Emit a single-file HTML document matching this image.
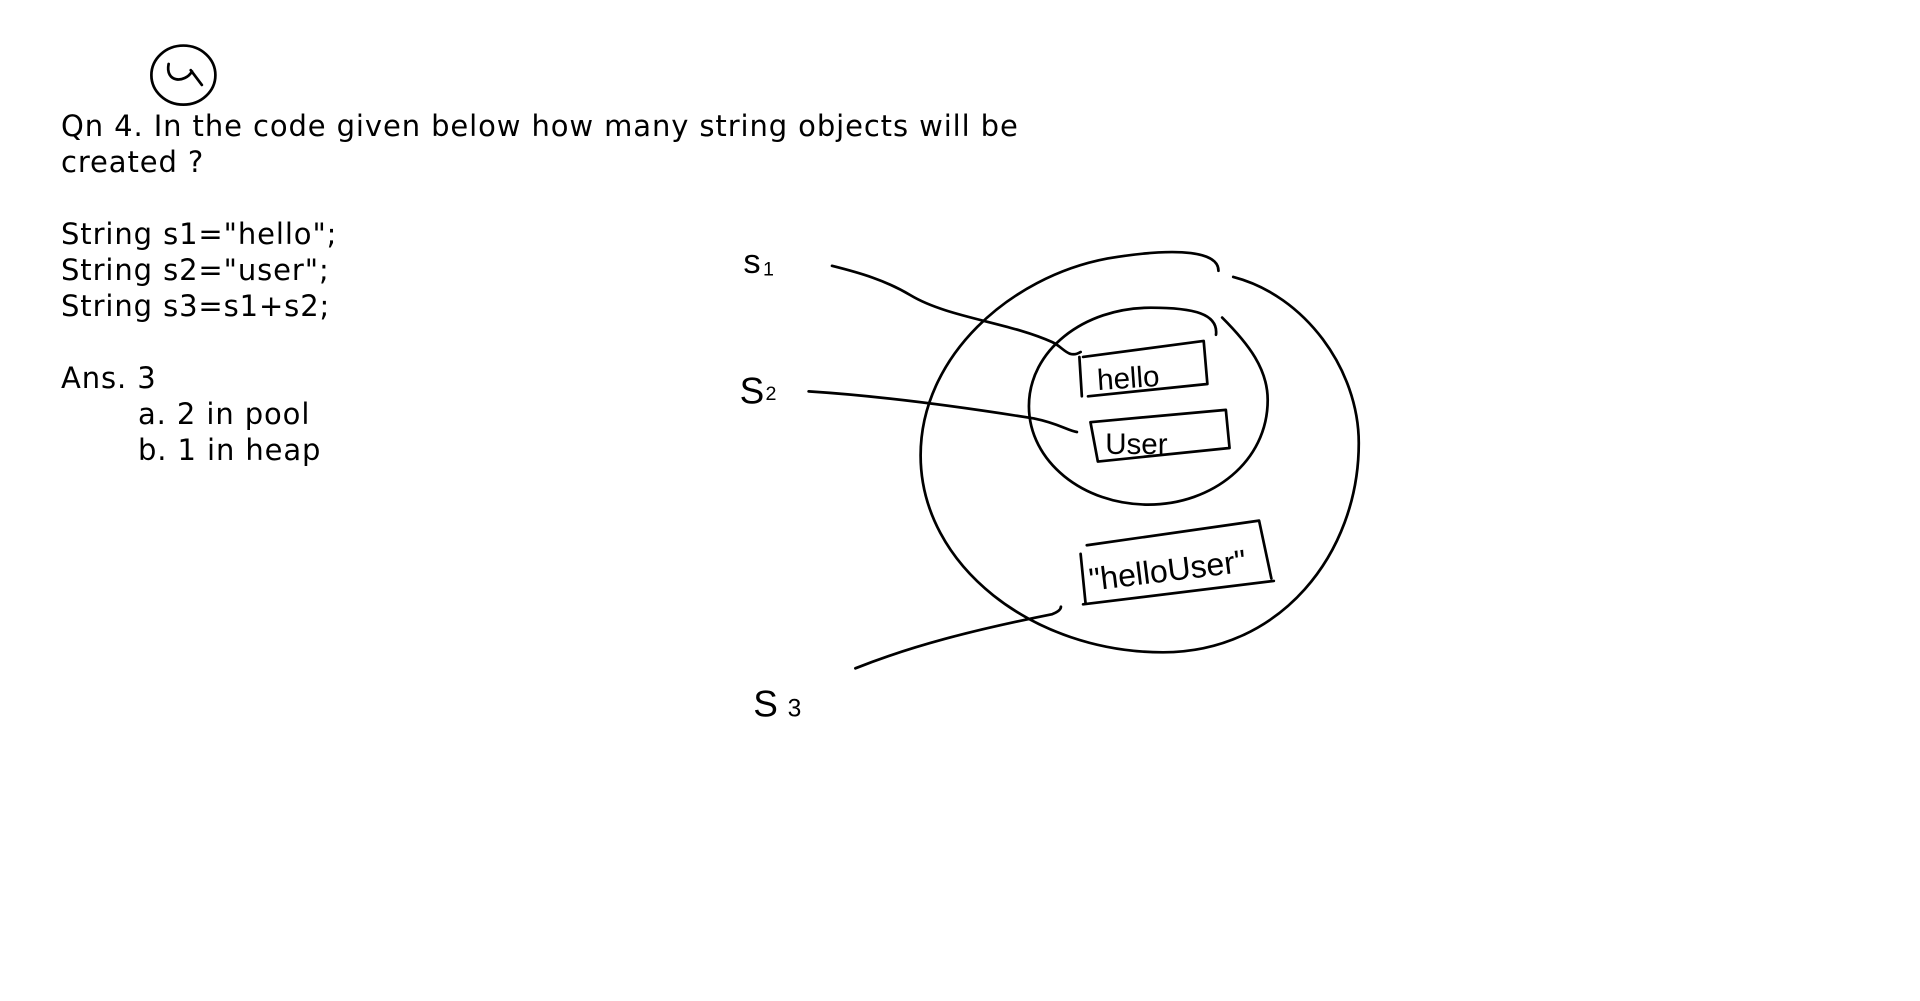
<!DOCTYPE html>
<html><head><meta charset="utf-8">
<style>
html,body{margin:0;padding:0;background:#fff;width:1920px;height:1001px;overflow:hidden;}
.t{position:absolute;left:61px;font-family:"DejaVu Sans","Liberation Sans",sans-serif;font-size:29px;letter-spacing:0.9px;color:#000;white-space:pre;line-height:36px;}
svg{position:absolute;left:0;top:0;}
</style></head><body>
<div class="t" style="top:108px;">Qn 4. In the code given below how many string objects will be
created ?

String s1="hello";
String s2="user";
String s3=s1+s2;

Ans. 3</div>
<div class="t" style="top:396px;left:138px;">a. 2 in pool
b. 1 in heap</div>
<svg width="1920" height="1001" viewBox="0 0 1560 813.3" fill="none" stroke="#000" stroke-width="2.2" stroke-linecap="round" stroke-linejoin="round">
<ellipse cx="149" cy="61" rx="26" ry="24"/>
<path d="M137,52 C134,67 150,68 156,58 M155,57 L164,69"/>
<path d="M1002,225 C1060,240 1104,300 1104,360 C1104,450 1040,530 945,530 C840,530 748,460 748,370 C748,290 820,225 900,210 C960,200 990,205 990,220"/>
<path d="M993,258 C1015,280 1030,300 1030,325 C1030,375 985,410 933,410 C880,410 836,375 836,330 C836,285 880,250 935,250 C970,250 990,255 988,272"/>
<path d="M880,290 L978,277 L981,312 L884,322 M877,290 L879,322"/>
<path d="M886,343 L996,333 L999,364 L892,375 Z"/>
<path d="M883,443 L1023,423 L1033,470 M880,491 L1035,472 M878,450 L882,490"/>
<path d="M676,216 C700,222 720,228 740,240 C770,258 820,262 855,278 C864,282 868,292 878,286"/>
<path d="M657,318 C720,322 790,332 840,340 C860,344 868,350 875,351"/>
<path d="M695,543 C740,525 790,512 855,499 C860,497 862,495 862,493"/>
<g stroke="none" fill="#000" font-family="Liberation Sans, sans-serif">
<text x="892" y="317" font-size="24" transform="rotate(-4 892 317)">hello</text>
<text x="898" y="369" font-size="24">User</text>
<text x="886" y="480" font-size="26" transform="rotate(-7 886 480)">"helloUser"</text>
<text x="604" y="222" font-size="28">s</text><text x="620" y="224" font-size="16">1</text>
<text x="601" y="328" font-size="30">S</text><text x="622" y="325" font-size="16">2</text>
<text x="612" y="582" font-size="30">S</text><text x="640" y="582" font-size="20">3</text>
</g>
</svg>
</body></html>
